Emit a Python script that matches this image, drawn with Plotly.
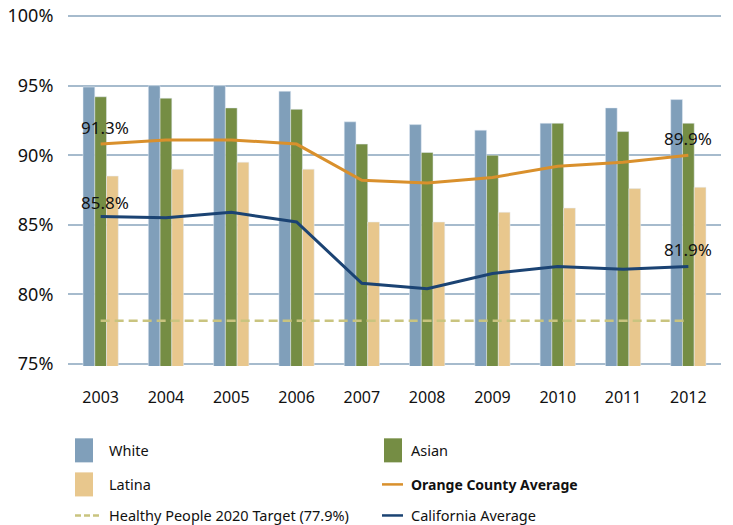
import plotly.graph_objects as go

years = ["2003", "2004", "2005", "2006", "2007", "2008", "2009", "2010", "2011", "2012"]
white = [94.9, 95.0, 95.0, 94.6, 92.4, 92.2, 91.8, 92.3, 93.4, 94.0]
asian = [94.2, 94.1, 93.4, 93.3, 90.8, 90.2, 90.0, 92.3, 91.7, 92.3]
latina = [88.5, 89.0, 89.5, 89.0, 85.2, 85.2, 85.9, 86.2, 87.6, 87.7]
oc_avg = [90.8, 91.1, 91.1, 90.8, 88.2, 88.0, 88.4, 89.2, 89.5, 90.0]
ca_avg = [85.6, 85.5, 85.9, 85.2, 80.8, 80.4, 81.5, 82.0, 81.8, 82.0]
target = [78.1] * len(years)

y_ticks = [75, 80, 85, 90, 95, 100]
y_tick_labels = ["75%", "80%", "85%", "90%", "95%", "100%"]

oc_labels = {"2003": "91.3%", "2012": "89.9%"}
ca_labels = {"2003": "85.8%", "2012": "81.9%"}

names = ["White", "Asian", "Latina", "<b>Orange County Average</b>",
         "Healthy People 2020 Target (77.9%)", "California Average"]
c_white, c_asian, c_latina = "#809fba", "#758d44", "#e8c78d"
c_oc, c_ca, c_target = "#d9902c", "#1b4373", "#c9c47f"

FONT = "Noto Sans"

fig = go.Figure()
fig.add_bar(x=years, y=white, marker_color=c_white, name=names[0])
fig.add_bar(x=years, y=asian, marker_color=c_asian, name=names[1])
fig.add_bar(x=years, y=latina, marker_color=c_latina, name=names[2])
fig.add_scatter(x=years, y=target, mode="lines", line=dict(color=c_target, width=2.5, dash="9px,5px"), name=names[4])
fig.add_scatter(x=years, y=oc_avg, mode="lines", line=dict(color=c_oc, width=3), name=names[3])
fig.add_scatter(x=years, y=ca_avg, mode="lines", line=dict(color=c_ca, width=3), name=names[5])

annotations = []
for yr, txt in oc_labels.items():
    i = years.index(yr)
    annotations.append(dict(x=i, y=oc_avg[i], xref="x", yref="y", text=txt, showarrow=False,
                            yshift=17, xshift=4 if i == 0 else 0, font=dict(size=17, color="#111")))
for yr, txt in ca_labels.items():
    i = years.index(yr)
    annotations.append(dict(x=i, y=ca_avg[i], xref="x", yref="y", text=txt, showarrow=False,
                            yshift=14 if i == 0 else 17, xshift=4 if i == 0 else 0, font=dict(size=17, color="#111")))

# plot area in pixels (with ~2px padding so the 75% / 100% grid lines show)
L, R, T, B = 68, 721, 14.4, 365.8
def px(xp):
    return (xp - L) / (R - L)
def py(yp):
    return (B - yp) / (B - T)

shapes = []
# (name, kind, colour, swatch x0, swatch x1, text x, row centre y)
legend_items = [
    (names[0], "box", c_white, 75, 93, 107, 450),
    (names[1], "box", c_asian, 384, 402, 409, 450),
    (names[2], "box", c_latina, 75, 93, 107, 484),
    (names[3], "line", c_oc, 382, 403, 409, 484),
    (names[4], "dash", c_target, 75, 99, 107, 515),
    (names[5], "line", c_ca, 382, 403, 409, 515),
]
for name, kind, col, x0, x1, tx, yc in legend_items:
    if kind == "box":
        shapes.append(dict(type="rect", xref="paper", yref="paper", x0=px(x0), x1=px(x1),
                           y0=py(yc + 12), y1=py(yc - 12), fillcolor=col, line=dict(width=0)))
    else:
        shapes.append(dict(type="line", xref="paper", yref="paper", x0=px(x0), x1=px(x1),
                           y0=py(yc), y1=py(yc),
                           line=dict(color=col, width=2.5, dash="6px,3px" if kind == "dash" else "solid")))
    bold = name.startswith("<b>")
    annotations.append(dict(x=px(tx), y=py(yc), xref="paper", yref="paper", text=name, showarrow=False,
                            xanchor="left", yanchor="middle",
                            font=dict(size=14 if bold else 14.5, color="#111")))

fig.update_layout(
    width=733, height=525,
    margin=dict(l=L, r=733 - R, t=T, b=525 - B, autoexpand=False),
    paper_bgcolor="white", plot_bgcolor="white",
    barmode="group", bargap=0.46, bargroupgap=0,
    showlegend=False,
    font=dict(family=FONT, size=16, color="#111"),
    annotations=annotations, shapes=shapes,
)
fig.update_yaxes(range=[74.85, 100.15], tickvals=y_ticks, ticktext=y_tick_labels,
                 showgrid=True, gridcolor="#a6bbcd", gridwidth=1.8,
                 zeroline=False, showline=False, ticks="outside", ticklen=10, tickcolor="rgba(0,0,0,0)",
                 tickfont=dict(size=18), automargin=False)
fig.update_xaxes(type="category", range=[-0.5, len(years) - 0.5], showgrid=False, showline=False,
                 ticks="outside", ticklen=17, tickcolor="rgba(0,0,0,0)", tickfont=dict(size=16), automargin=False)

fig.write_html("out.html", config={"displayModeBar": False},
               post_script="document.body.style.margin='0';")
